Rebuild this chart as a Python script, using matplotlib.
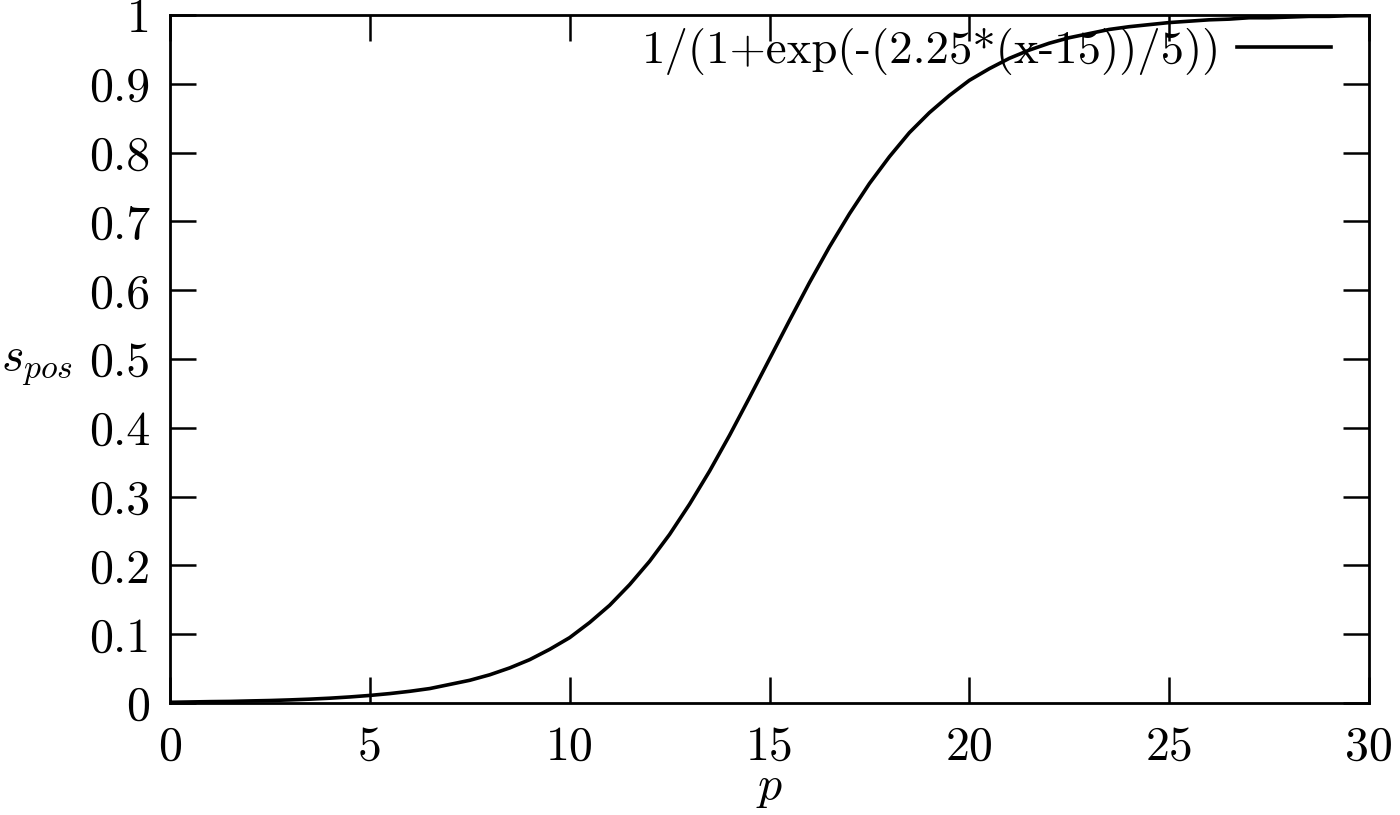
import numpy as np
import matplotlib.pyplot as plt

plt.rcParams['font.family'] = ['cmr10', 'DejaVu Serif']
plt.rcParams['mathtext.fontset'] = 'cm'
plt.rcParams['axes.formatter.use_mathtext'] = True

# values every 0.5 in p
p = [0, 0.5, 1, 1.5, 2, 2.5, 3, 3.5, 4, 4.5, 5, 5.5, 6, 6.5, 7, 7.5, 8, 8.5, 9, 9.5,
     10, 10.5, 11, 11.5, 12, 12.5, 13, 13.5, 14, 14.5, 15, 15.5, 16, 16.5, 17, 17.5,
     18, 18.5, 19, 19.5, 20, 20.5, 21, 21.5, 22, 22.5, 23, 23.5, 24, 24.5, 25, 25.5,
     26, 26.5, 27, 27.5, 28, 28.5, 29, 29.5, 30]
s_pos = [0.001, 0.0015, 0.002, 0.0023, 0.003, 0.0036, 0.0045, 0.0056, 0.007, 0.0088,
         0.011, 0.0137, 0.017, 0.021, 0.027, 0.033, 0.041, 0.051, 0.063, 0.078,
         0.095, 0.117, 0.142, 0.172, 0.206, 0.245, 0.289, 0.337, 0.389, 0.444,
         0.5, 0.556, 0.611, 0.663, 0.711, 0.755, 0.794, 0.829, 0.858, 0.883,
         0.905, 0.922, 0.937, 0.949, 0.959, 0.967, 0.973, 0.979, 0.983, 0.986,
         0.989, 0.991, 0.993, 0.994, 0.996, 0.996, 0.997, 0.998, 0.998, 0.999, 0.999]
label = '1/(1+exp(-(2.25*(x-15))/5))'

xticks = [0, 5, 10, 15, 20, 25, 30]
yticks = [0, 0.1, 0.2, 0.3, 0.4, 0.5, 0.6, 0.7, 0.8, 0.9, 1]
yticklabels = ['0', '0.1', '0.2', '0.3', '0.4', '0.5', '0.6', '0.7', '0.8', '0.9', '1']

fig = plt.figure(figsize=(14, 8.15), dpi=100)
ax = fig.add_axes([170 / 1400, 1 - 703 / 815, 1199 / 1400, 688 / 815])

ax.plot(p, s_pos, color='black', lw=2.6, label=label)

ax.set_xlim(0, 30)
ax.set_ylim(0, 1)
ax.set_xticks(xticks)
ax.set_xticklabels([str(t) for t in xticks])
ax.set_yticks(yticks)
ax.set_yticklabels(yticklabels)
ax.tick_params(direction='in', length=19, width=1.8, labelsize=34.5,
               top=True, right=True)
ax.tick_params(axis='y', pad=14)
ax.tick_params(axis='x', pad=16)
for sp in ax.spines.values():
    sp.set_linewidth(2)

ax.set_xlabel('$p$', fontsize=34.5, labelpad=-3)
ax.set_ylabel('$s_{pos}$', fontsize=34.5, rotation=0, ha='center', va='center')
ax.yaxis.set_label_coords(-0.111, 0.49)

ax.legend(loc='upper right', bbox_to_anchor=(1 - 22 / 1199, 1.005), frameon=False,
          fontsize=33.7, markerfirst=False, handlelength=2.0, handletextpad=0.35,
          borderaxespad=0.25, borderpad=0.1)

fig.savefig('out.png', dpi=100)
